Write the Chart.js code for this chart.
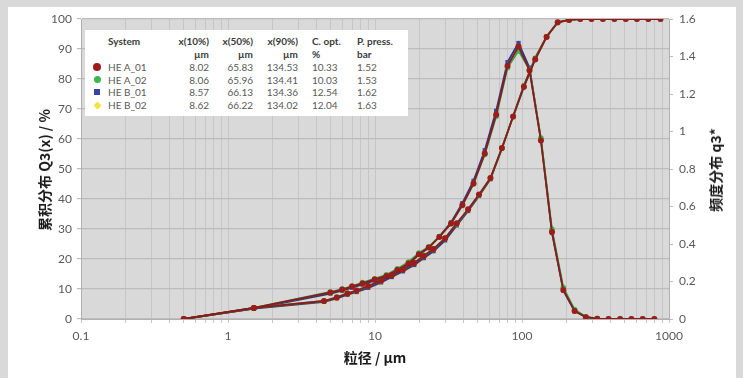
<!DOCTYPE html>
<html>
<head>
<meta charset="utf-8">
<script src="https://cdn.jsdelivr.net/npm/chart.js@4/dist/chart.umd.min.js"></script>
<style>
  body { margin: 0; background: #d9d9d9; width: 743px; height: 378px; overflow: hidden; position: relative; font-family: Lato, "Noto Sans", sans-serif; }
  #panel { position: absolute; left: 8px; top: 7px; width: 728px; height: 371px; background: #fff; }
  #chart { position: absolute; left: 0; top: 0; }
  .title { position: absolute; font-family: "Noto Sans CJK SC", "Noto Sans", sans-serif; font-weight: bold; font-size: 14px; color: #1a1a1a; white-space: nowrap; transform: translate(-50%, -50%); }
  .rot { transform: translate(-50%, -50%) rotate(-90deg); }
  #legendBox { position: absolute; left: 85px; top: 30px; width: 323px; height: 86px; background: #fff; font-size: 10px; color: #595959; }
  #legendBox span { position: absolute; white-space: nowrap; line-height: 12px; }
  #legendBox .hd { color: #3a3a3a; font-weight: bold; }
  #legendBox .mk { position: absolute; }
</style>
</head>
<body>
<div id="panel"></div>
<canvas id="chart" width="743" height="378"></canvas>
<div id="legendBox"></div>
<div class="title rot" style="left:44px; top:170px;">累积分布 Q3(x) / %</div>
<div class="title rot" style="left:715px; top:170px;">频度分布 q3*</div>
<div class="title" style="left:375px; top:357px;">粒径 / µm</div>
<script>
// particle size classes (µm)
const cumSizes = [0.5, 1.5, 4.5, 5.5, 6.5, 7.5, 9, 11, 13, 15.5, 18.5, 21.5, 25, 30, 36, 43, 51, 61, 73, 87, 103, 123, 147, 175, 209, 249, 297, 355, 425, 508, 605, 723, 875];
const densSizes = [0.5, 1.5, 4.97, 5.98, 6.98, 8.22, 9.95, 11.96, 14.2, 16.9, 19.9, 23.2, 27.4, 32.9, 39.3, 46.8, 55.8, 66.7, 79.7, 94.7, 112.5, 134.5, 160, 191, 228, 272, 325, 388, 465, 555, 662, 795];

// cumulative Q3 (%)
const cumA01 = [0, 3.7, 6.0, 7.2, 8.5, 9.5, 11.0, 12.8, 14.6, 16.5, 18.7, 21.0, 23.3, 26.9, 31.9, 36.6, 41.5, 47, 57, 67.5, 77.4, 86.5, 94, 98.9, 99.7, 100, 100, 100, 100, 100, 100, 100, 100];
const cumA02 = [0, 3.7, 6.0, 7.3, 8.6, 9.5, 11.0, 12.8, 14.7, 16.6, 18.8, 21.2, 23.4, 27.0, 31.8, 36.5, 41.4, 47, 57, 67.4, 77.3, 86.6, 94.1, 98.8, 99.7, 100, 100, 100, 100, 100, 100, 100, 100];
const cumB01 = [0, 3.5, 5.7, 6.9, 8.1, 9.0, 10.4, 12.2, 14.0, 15.9, 18.0, 20.3, 22.6, 26.2, 31.2, 36.0, 41.0, 46.6, 56.8, 67.6, 77.8, 87.0, 94.2, 98.9, 99.7, 100, 100, 100, 100, 100, 100, 100, 100];
const cumB02 = [0, 3.5, 5.6, 6.8, 8.0, 8.9, 10.3, 12.1, 13.9, 15.8, 17.9, 20.2, 22.5, 26.1, 31.1, 35.9, 40.9, 46.5, 56.6, 67.6, 77.9, 87.2, 94.3, 98.9, 99.7, 100, 100, 100, 100, 100, 100, 100, 100];

// density q3*
const densA01 = [0, 0.059, 0.142, 0.157, 0.173, 0.19, 0.211, 0.23, 0.261, 0.296, 0.346, 0.381, 0.438, 0.51, 0.608, 0.723, 0.883, 1.09, 1.35, 1.453, 1.326, 0.952, 0.464, 0.155, 0.043, 0.01, 0.002, 0, 0, 0, 0, 0];
const densA02 = [0, 0.059, 0.144, 0.16, 0.176, 0.194, 0.215, 0.236, 0.268, 0.304, 0.352, 0.385, 0.44, 0.508, 0.605, 0.72, 0.878, 1.08, 1.34, 1.43, 1.33, 0.965, 0.478, 0.168, 0.05, 0.012, 0.002, 0, 0, 0, 0, 0];
const densB01 = [0, 0.056, 0.136, 0.151, 0.167, 0.184, 0.205, 0.225, 0.256, 0.292, 0.343, 0.38, 0.44, 0.515, 0.618, 0.737, 0.9, 1.11, 1.37, 1.472, 1.34, 0.955, 0.46, 0.152, 0.042, 0.01, 0.002, 0, 0, 0, 0, 0];
const densB02 = [0, 0.056, 0.135, 0.15, 0.166, 0.183, 0.204, 0.224, 0.255, 0.291, 0.342, 0.379, 0.439, 0.513, 0.615, 0.733, 0.895, 1.105, 1.36, 1.46, 1.335, 0.958, 0.462, 0.153, 0.042, 0.01, 0.002, 0, 0, 0, 0, 0];

// legend table
const sampleNames = ["HE A_01", "HE A_02", "HE B_01", "HE B_02"];
const x10 = ["8.02", "8.06", "8.57", "8.62"];
const x50 = ["65.83", "65.96", "66.13", "66.22"];
const x90 = ["134.53", "134.41", "134.36", "134.02"];
const cOpt = ["10.33", "10.03", "12.54", "12.04"];
const pPress = ["1.52", "1.53", "1.62", "1.63"];

// axis ticks
const xDecades = [0.1, 1, 10, 100, 1000];
const xTickLabels = ["0.1", "1", "10", "100", "1000"];

const styles = [
  { line: "#8b1a1a", fill: "#9c1c1c", shape: "circle", r: 3 },
  { line: "#34a34a", fill: "#3cb64e", shape: "circle", r: 2.8 },
  { line: "#2e3592", fill: "#3a44a8", shape: "rect", r: 3 },
  { line: "#e0d020", fill: "#f2e43a", shape: "rectRot", r: 3.2 }
];

function pts(sizes, vals) {
  return sizes.map(function (s, i) {
    return { x: s, y: vals[i] };
  });
}

function makeSet(label, sizes, vals, st, axis) {
  return {
    label: label,
    data: pts(sizes, vals),
    yAxisID: axis,
    borderColor: st.line,
    backgroundColor: st.fill,
    borderWidth: 1.8,
    pointStyle: st.shape,
    pointRadius: st.r,
    pointBorderColor: st.fill,
    pointBackgroundColor: st.fill,
    pointBorderWidth: 0,
    tension: 0
  };
}

const cums = [cumA01, cumA02, cumB01, cumB02];
const dens = [densA01, densA02, densB01, densB02];
let datasets = [];
for (let i = 0; i < 4; i++) {
  datasets.push(makeSet(sampleNames[i] + " Q3", cumSizes, cums[i], styles[i], "y"));
  datasets.push(makeSet(sampleNames[i] + " q3", densSizes, dens[i], styles[i], "y1"));
}

const plotBg = {
  id: "plotBg",
  beforeDraw: function (chart) {
    const a = chart.chartArea;
    chart.ctx.save();
    chart.ctx.fillStyle = "#d9d9d9";
    chart.ctx.fillRect(a.left, a.top, a.right - a.left, a.bottom - a.top);
    chart.ctx.restore();
  }
};

const tickFont = { family: "Lato", size: 12 };

new Chart(document.getElementById("chart"), {
  type: "line",
  data: { datasets: datasets },
  options: {
    responsive: false,
    animation: false,
    devicePixelRatio: 1,
    layout: { padding: { top: 19, left: 0, right: 0, bottom: 0 } },
    plugins: { legend: { display: false }, tooltip: { enabled: false } },
    scales: {
      x: {
        type: "logarithmic",
        position: "bottom",
        min: 0.1,
        max: 1000,
        afterFit: function (s) { s.height = 59; },
        afterBuildTicks: function (scale) {
          let ticks = [];
          for (let i = 0; i < xDecades.length - 1; i++) {
            for (let m = 1; m < 10; m++) {
              ticks.push({ value: parseFloat((xDecades[i] * m).toPrecision(3)) });
            }
          }
          ticks.push({ value: xDecades[xDecades.length - 1] });
          scale.ticks = ticks;
        },
        ticks: {
          autoSkip: false,
          maxRotation: 0,
          padding: 6,
          color: "#595959",
          font: tickFont,
          callback: function (value) {
            let i = xDecades.findIndex(function (d) { return Math.abs(d - value) < 1e-9; });
            return i >= 0 ? xTickLabels[i] : "";
          }
        },
        grid: { color: "#c6c6c6", tickLength: 4, lineWidth: 1 },
        border: { color: "#b0b0b0" }
      },
      y: {
        position: "left",
        min: 0,
        max: 100,
        afterFit: function (s) { s.width = 81; },
        ticks: { stepSize: 10, padding: 5, color: "#595959", font: tickFont },
        grid: { color: "#bcbcbc", tickLength: 4, lineWidth: 1.2 },
        border: { color: "#b0b0b0" }
      },
      y1: {
        position: "right",
        min: 0,
        max: 1.6,
        afterFit: function (s) { s.width = 74; },
        ticks: {
          stepSize: 0.2,
          padding: 6,
          color: "#595959",
          font: tickFont,
          callback: function (v) { return String(Math.round(v * 10) / 10); }
        },
        grid: { drawOnChartArea: false, color: "#bcbcbc", tickLength: 4 },
        border: { color: "#b0b0b0" }
      }
    }
  },
  plugins: [plotBg]
});

// legend table as html text
function addText(box, txt, x, y, cls, alignRight) {
  let s = document.createElement("span");
  s.textContent = txt;
  if (cls) s.className = cls;
  s.style.top = (y - 6) + "px";
  if (alignRight) {
    s.style.right = (323 - x) + "px";
  } else {
    s.style.left = x + "px";
  }
  box.appendChild(s);
}

function addMarker(box, idx, cx, cy) {
  let m = document.createElement("div");
  m.className = "mk";
  let st = styles[idx];
  let size = idx === 0 ? 8 : 7;
  if (st.shape === "rect") size = 6;
  m.style.width = size + "px";
  m.style.height = size + "px";
  m.style.left = (cx - size / 2) + "px";
  m.style.top = (cy - size / 2) + "px";
  m.style.background = st.fill;
  if (st.shape === "circle") m.style.borderRadius = "50%";
  if (st.shape === "rectRot") m.style.transform = "rotate(45deg) scale(0.8)";
  box.appendChild(m);
}

const box = document.getElementById("legendBox");
// box-relative columns
const colName = 23, col10 = 124, col50 = 168, col90 = 213, colC = 227, colP = 272;
const rowY = [11, 24, 37, 49.5, 62, 75];
addText(box, "System", colName, rowY[0], "hd");
addText(box, "x(10%)", col10, rowY[0], "hd", true);
addText(box, "x(50%)", col50, rowY[0], "hd", true);
addText(box, "x(90%)", col90, rowY[0], "hd", true);
addText(box, "C. opt.", colC, rowY[0], "hd");
addText(box, "P. press.", colP, rowY[0], "hd");
addText(box, "µm", col10, rowY[1], "hd", true);
addText(box, "µm", col50, rowY[1], "hd", true);
addText(box, "µm", col90, rowY[1], "hd", true);
addText(box, "%", colC, rowY[1], "hd");
addText(box, "bar", colP, rowY[1], "hd");
for (let i = 0; i < 4; i++) {
  let y = rowY[i + 2];
  addMarker(box, i, 12, y);
  addText(box, sampleNames[i], colName, y);
  addText(box, x10[i], col10, y, "", true);
  addText(box, x50[i], col50, y, "", true);
  addText(box, x90[i], col90, y, "", true);
  addText(box, cOpt[i], colC, y);
  addText(box, pPress[i], colP, y);
}
</script>
</body>
</html>
